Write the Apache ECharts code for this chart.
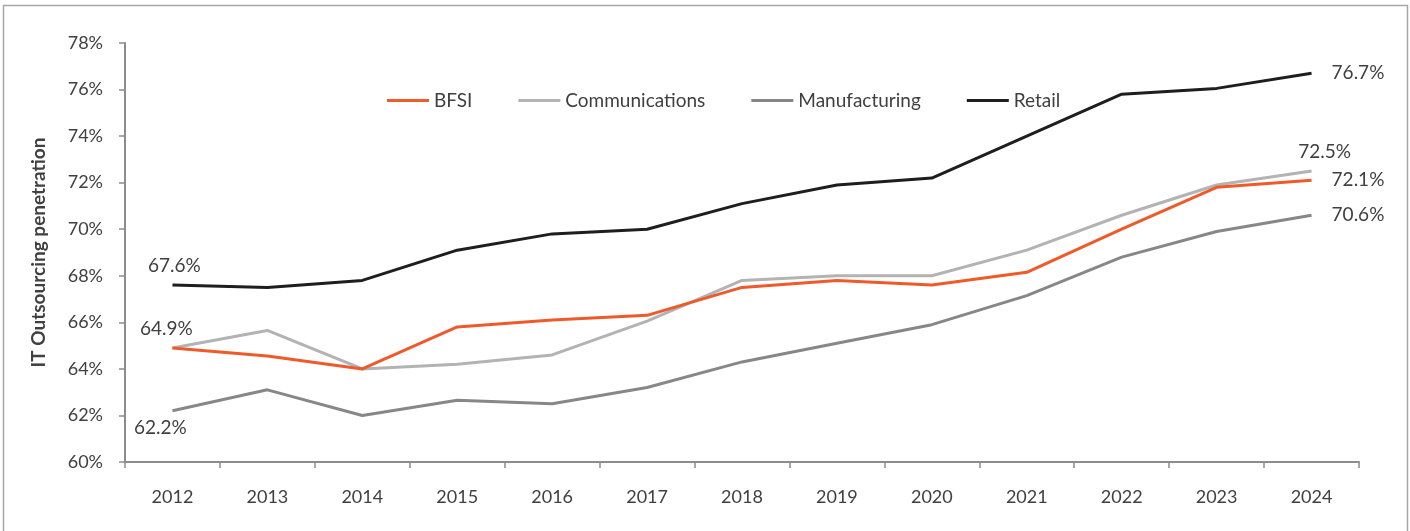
<!DOCTYPE html>
<html>
<head>
<meta charset="utf-8">
<script src="https://cdn.jsdelivr.net/npm/echarts@6/dist/echarts.min.js"></script>
<style>
  html, body { margin: 0; padding: 0; background: #ffffff; }
  #chart { width: 1410px; height: 531px; }
</style>
</head>
<body>
<div id="chart"></div>
<script>
// Years on the category axis
const years = ['2012', '2013', '2014', '2015', '2016', '2017', '2018', '2019', '2020', '2021', '2022', '2023', '2024'];

// IT outsourcing penetration by vertical (%)
const bfsi           = [64.9, 64.55, 64.0, 65.8, 66.1, 66.3, 67.5, 67.8, 67.6, 68.15, 70.0, 71.8, 72.1];
const communications = [64.9, 65.65, 64.0, 64.2, 64.6, 66.05, 67.8, 68.0, 68.0, 69.1, 70.6, 71.9, 72.5];
const manufacturing  = [62.2, 63.1, 62.0, 62.65, 62.5, 63.2, 64.3, 65.1, 65.9, 67.15, 68.8, 69.9, 70.6];
const retail         = [67.6, 67.5, 67.8, 69.1, 69.8, 70.0, 71.1, 71.9, 72.2, 74.0, 75.8, 76.05, 76.7];

// Y axis range / tick labels
const yMin = 60, yMax = 78, yStep = 2;

const FONT = 'Lato, "Liberation Sans", sans-serif';
const TEXT = '#404040';
const AXIS = '#8c8c8c';

// Build a series' data, attaching value labels at selected indices
function withLabels(values, labelSpec) {
  return values.map((v, i) => {
    const spec = labelSpec[i];
    if (!spec) return v;
    return {
      value: v,
      label: Object.assign({
        show: true,
        formatter: p => Number(p.value).toFixed(1) + '%',
        color: TEXT,
        fontFamily: FONT,
        fontSize: 19
      }, spec)
    };
  });
}

const last = years.length - 1;

// Shared line-series settings: tiny symbols so that point labels can render
function lineSeries(name, color, z, data) {
  return {
    name: name,
    type: 'line',
    symbol: 'circle',
    symbolSize: 0.1,
    showSymbol: true,
    z: z,
    lineStyle: { color: color, width: 3 },
    itemStyle: { color: color },
    label: { show: false },
    data: data
  };
}

const chart = echarts.init(document.getElementById('chart'), null, { renderer: 'canvas' });

chart.setOption({
  backgroundColor: '#ffffff',
  animation: false,
  graphic: [{
    type: 'rect',
    shape: { x: 3.5, y: 5.5, width: 1404, height: 530 },
    style: { fill: 'none', stroke: '#a6a6a6', lineWidth: 1.5 },
    silent: true
  }],
  legend: {
    left: 382,
    top: 86,
    itemWidth: 42,
    itemHeight: 3,
    itemGap: 46,
    icon: 'rect',
    textStyle: { color: TEXT, fontFamily: FONT, fontSize: 19 },
    data: ['BFSI', 'Communications', 'Manufacturing', 'Retail']
  },
  grid: { left: 125, right: 51, top: 43, bottom: 69, containLabel: false },
  xAxis: {
    type: 'category',
    data: years,
    boundaryGap: true,
    axisLine: { lineStyle: { color: AXIS, width: 2 } },
    axisTick: { show: true, length: 6, alignWithLabel: false, lineStyle: { color: AXIS, width: 1.5 } },
    axisLabel: { color: TEXT, fontFamily: FONT, fontSize: 18, margin: 26 },
    splitLine: { show: false }
  },
  yAxis: {
    type: 'value',
    min: yMin,
    max: yMax,
    interval: yStep,
    name: 'IT Outsourcing penetration',
    nameLocation: 'middle',
    nameGap: 77,
    nameRotate: 90,
    nameTextStyle: { color: TEXT, fontFamily: FONT, fontSize: 19, fontWeight: 'bold' },
    axisLine: { show: true, lineStyle: { color: AXIS, width: 2 } },
    axisTick: { show: true, inside: false, length: 6, lineStyle: { color: AXIS, width: 1.5 } },
    axisLabel: { color: TEXT, fontFamily: FONT, fontSize: 18, margin: 22, formatter: v => v + '%' },
    splitLine: { show: false }
  },
  series: [
    lineSeries('Manufacturing', '#878787', 2, withLabels(manufacturing, {
      0: { position: 'bottom', distance: 8, offset: [-12, 0] },
      [last]: { position: 'right', distance: 20 }
    })),
    lineSeries('Communications', '#b3b3b3', 3, withLabels(communications, {
      0: { position: 'top', distance: 10, offset: [-6, 0] },
      [last]: { position: 'top', distance: 10, offset: [13, 0] }
    })),
    lineSeries('BFSI', '#ef5a2a', 4, withLabels(bfsi, {
      [last]: { position: 'right', distance: 20 }
    })),
    lineSeries('Retail', '#1e1e1e', 5, withLabels(retail, {
      0: { position: 'top', distance: 10, offset: [2, 0] },
      [last]: { position: 'right', distance: 20 }
    }))
  ]
});
</script>
</body>
</html>
